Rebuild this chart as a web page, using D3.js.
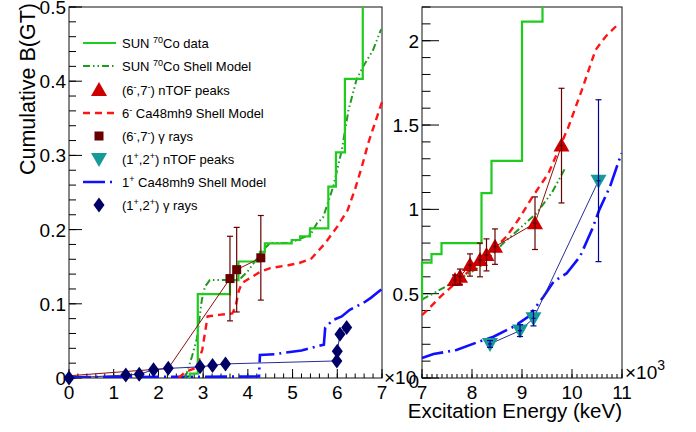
<!DOCTYPE html>
<html>
<head>
<meta charset="utf-8">
<script src="https://cdn.jsdelivr.net/npm/d3@7"></script>
<style>
  html, body { margin: 0; padding: 0; background: #fff; }
  svg { display: block; }
</style>
</head>
<body>
<script>
// ---------- data (excitation energy in keV, cumulative B(GT)) ----------
// SUN 70Co data, step function: energy where each step occurs, cumulative value after it
const sunDataLowE = [2650, 2700, 2880, 3600, 3790, 4270, 4380, 4980, 5170, 5390, 5800, 5970, 6170, 6570, 7000];
const sunDataLowB = [0.0, 0.006, 0.113, 0.132, 0.157, 0.170, 0.1815, 0.186, 0.191, 0.2017, 0.258, 0.304, 0.403, 0.56, 0.56];
const sunDataHighE = [7000, 7001, 7190, 7390, 8190, 8390, 9000, 9410, 11000];
const sunDataHighB = [0.463, 0.684, 0.735, 0.80, 1.096, 1.287, 2.113, 2.5, 2.5];

// SUN 70Co shell model
const sunSmLowE = [2600, 2750, 2860, 2970, 3040, 3150, 3520, 3680, 3850, 4000, 4180, 4330, 4500, 4900, 5100, 5400, 5550, 5680, 5910, 6100, 6250, 6430, 6580, 6800, 6980];
const sunSmLowB = [0.0, 0.029, 0.053, 0.105, 0.123, 0.132, 0.132, 0.131, 0.135, 0.144, 0.159, 0.172, 0.182, 0.182, 0.186, 0.193, 0.209, 0.216, 0.258, 0.307, 0.361, 0.402, 0.420, 0.442, 0.470];
const sunSmHighE = [7000, 7400, 7760, 8160, 8630, 8960, 9290, 9600, 9850];
const sunSmHighB = [0.465, 0.53, 0.59, 0.66, 0.80, 0.888, 0.977, 1.10, 1.237];

// 6- Ca48mh9 shell model
const neg6SmLowE = [2450, 2600, 2850, 2980, 3100, 3350, 3650, 3720, 3800, 3870, 4270, 4500, 4900, 5150, 5420, 5720, 6000, 6230, 6400, 6550, 6700, 6850, 7000];
const neg6SmLowB = [0.0, 0.008, 0.014, 0.038, 0.083, 0.085, 0.087, 0.095, 0.118, 0.128, 0.143, 0.148, 0.152, 0.155, 0.161, 0.181, 0.204, 0.226, 0.255, 0.285, 0.318, 0.345, 0.372];
const neg6SmHighE = [7000, 7190, 7360, 7700, 8000, 8300, 8690, 8930, 9200, 9530, 9930, 10200, 10470, 10670, 10930];
const neg6SmHighB = [0.372, 0.428, 0.48, 0.57, 0.65, 0.73, 0.838, 0.94, 1.07, 1.214, 1.49, 1.71, 1.945, 2.024, 2.10];

// 1+ Ca48mh9 shell model
const pos1SmLowE = [0, 4250, 4270, 4600, 4800, 5200, 5700, 5730, 5900, 6100, 6280, 6580, 6750, 7000];
const pos1SmLowB = [0.001, 0.002, 0.031, 0.032, 0.034, 0.037, 0.045, 0.068, 0.078, 0.083, 0.092, 0.101, 0.108, 0.120];
const pos1SmHighE = [7000, 7230, 7690, 8090, 8430, 8830, 9130, 9430, 9630, 9890, 10160, 10400, 10550, 10760, 10990];
const pos1SmHighB = [0.118, 0.142, 0.166, 0.21, 0.245, 0.304, 0.364, 0.482, 0.571, 0.62, 0.72, 0.88, 1.0, 1.135, 1.333];

// (6-,7-) nTOF peaks
const negNtofE = [7660, 7760, 7960, 8160, 8290, 8460, 9260, 9790];
const negNtofB = [0.581, 0.601, 0.670, 0.700, 0.730, 0.779, 0.918, 1.378];
const negNtofErr = [0.03, 0.045, 0.066, 0.10, 0.095, 0.105, 0.156, 0.34];

// (1+,2+) nTOF peaks
const posNtofE = [8360, 8960, 9230, 10530];
const posNtofB = [0.202, 0.281, 0.354, 1.17];
const posNtofErr = [0.02, 0.035, 0.045, 0.48];

// (6-,7-) gamma rays (first two entries anchor the trend line, no measurement)
const negGammaE = [0, 2220, 3600, 3750, 4290];
const negGammaB = [0.003, 0.013, 0.134, 0.146, 0.162];
const negGammaErr = [0, 0, 0.057, 0.057, 0.057];

// (1+,2+) gamma rays
const posGammaE = [0, 1270, 1570, 1890, 2220, 2930, 3210, 3500, 5990, 6000, 6060, 6210];
const posGammaB = [0.0, 0.004, 0.005, 0.011, 0.013, 0.015, 0.017, 0.019, 0.023, 0.036, 0.059, 0.068];

// axis ticks
const leftXTicks = [0, 1000, 2000, 3000, 4000, 5000, 6000, 7000];
const leftYTicks = [0, 0.1, 0.2, 0.3, 0.4, 0.5];
const rightXTicks = [7000, 8000, 9000, 10000, 11000];
const rightYTicks = [0, 0.5, 1, 1.5, 2];

const legendLabels = [
  [["SUN "], ["70", 1], ["Co data"]],
  [["SUN "], ["70", 1], ["Co Shell Model"]],
  [["(6"], ["-", 1], [",7"], ["-", 1], [") nTOF peaks"]],
  [["6"], ["-", 1], [" Ca48mh9 Shell Model"]],
  [["(6"], ["-", 1], [",7"], ["-", 1], [") \u03b3 rays"]],
  [["(1"], ["+", 1], [",2"], ["+", 1], [") nTOF peaks"]],
  [["1"], ["+", 1], [" Ca48mh9 Shell Model"]],
  [["(1"], ["+", 1], [",2"], ["+", 1], [") \u03b3 rays"]]
];

(function () {
// ---------- styles ----------
const FONT = "'Liberation Sans', Arial, Helvetica, sans-serif";
const C = {
  data: "#1ecb1e",
  sm: "#1f9a1f",
  red: "#ff1414",
  tri: "#cc0000",
  maroon: "#660000",
  teal: "#159a9a",
  blue: "#1010ff",
  navy: "#000066",
  navyLine: "#2a2a9a",
  errBlue: "#000099"
};
const styleSm = { stroke: C.sm, width: 2, dash: "7,3,1.5,3,1.5,3" };
const styleRed = { stroke: C.red, width: 2.4, dash: "7,5" };
const styleBlue = { stroke: C.blue, width: 2.6, dash: "22,5,2,5" };

const W = 696, H = 432;
const svg = d3.select("body").append("svg").attr("width", W).attr("height", H)
  .style("font-family", FONT);
svg.append("rect").attr("width", W).attr("height", H).attr("fill", "#fff");

const plotTop = 7, plotBottom = 378;
const xL = d3.scaleLinear([0, 7000], [69, 382]);
const yL = d3.scaleLinear([0, 0.5], [plotBottom, plotTop]);
const xR = d3.scaleLinear([7000, 11000], [422, 622]);
const yR = d3.scaleLinear([0, 2.2], [plotBottom, plotTop]);

const zip = (xs, ys) => xs.map((x, i) => [x, ys[i]]);

// ---------- marker shapes ----------
function marker(g, kind, cx, cy, color) {
  if (kind === "up") {
    g.append("path").attr("d", `M${cx - 8},${cy + 6}L${cx + 8},${cy + 6}L${cx},${cy - 8}Z`).attr("fill", color);
  } else if (kind === "down") {
    g.append("path").attr("d", `M${cx - 8},${cy - 6}L${cx + 8},${cy - 6}L${cx},${cy + 8}Z`).attr("fill", color);
  } else if (kind === "square") {
    g.append("rect").attr("x", cx - 4.5).attr("y", cy - 4.5).attr("width", 9).attr("height", 9).attr("fill", color);
  } else if (kind === "diamond") {
    g.append("path").attr("d", `M${cx},${cy - 7.5}L${cx + 5.5},${cy}L${cx},${cy + 7.5}L${cx - 5.5},${cy}Z`).attr("fill", color);
  }
}

function drawCurve(g, pts, x, y, st, curve) {
  g.append("path")
    .attr("d", d3.line().x(d => x(d[0])).y(d => y(d[1])).curve(curve || d3.curveLinear)(pts))
    .attr("fill", "none").attr("stroke", st.stroke).attr("stroke-width", st.width)
    .attr("stroke-dasharray", st.dash || null).attr("stroke-linejoin", "miter");
}

function errBars(g, es, bs, errs, x, y, color, xerr) {
  es.forEach((e, i) => {
    if (!errs[i]) return;
    const cx = x(e), y0 = y(bs[i] - errs[i]), y1 = y(bs[i] + errs[i]);
    g.append("line").attr("x1", cx).attr("x2", cx).attr("y1", y0).attr("y2", y1)
      .attr("stroke", color).attr("stroke-width", 1.2);
    [y0, y1].forEach(yy => g.append("line").attr("x1", cx - 3).attr("x2", cx + 3).attr("y1", yy).attr("y2", yy)
      .attr("stroke", color).attr("stroke-width", 1.2));
    if (xerr) {
      const cy = y(bs[i]);
      g.append("line").attr("x1", x(e - xerr)).attr("x2", x(e + xerr)).attr("y1", cy).attr("y2", cy)
        .attr("stroke", color).attr("stroke-width", 1.2);
    }
  });
}

// ---------- axes (frame, inward ticks, labels) ----------
function axes(x, y, xt, yt, xMinorStep, yMinorStep, opts) {
  const g = svg.append("g");
  const [x0, x1] = x.range();
  const [yb, yt0] = y.range();
  const xMinor = d3.range(x.domain()[0], x.domain()[1] + 1e-6, xMinorStep);
  const yMinor = d3.range(y.domain()[0], y.domain()[1] + 1e-9, yMinorStep);
  g.append("rect").attr("x", x0).attr("y", yt0).attr("width", x1 - x0).attr("height", yb - yt0)
    .attr("fill", "none").attr("stroke", "#111").attr("stroke-width", 1);
  xMinor.forEach(v => g.append("line").attr("x1", x(v)).attr("x2", x(v)).attr("y1", yb).attr("y2", yb - opts.xMinorLen).attr("stroke", "#000"));
  xt.forEach(v => g.append("line").attr("x1", x(v)).attr("x2", x(v)).attr("y1", yb).attr("y2", yb - opts.xMajorLen).attr("stroke", "#000"));
  yMinor.forEach(v => g.append("line").attr("x1", x0).attr("x2", x0 + opts.yMinorLen).attr("y1", y(v)).attr("y2", y(v)).attr("stroke", "#000"));
  yt.forEach(v => g.append("line").attr("x1", x0).attr("x2", x0 + opts.yMajorLen).attr("y1", y(v)).attr("y2", y(v)).attr("stroke", "#000"));
  xt.forEach(v => g.append("text").attr("x", x(v)).attr("y", 399).attr("text-anchor", "middle")
    .attr("font-size", 19).text(d3.format("~g")(v / 1000)));
  yt.forEach(v => g.append("text").attr("x", x0 - 3).attr("y", y(v) + 7 + (v === 0 ? opts.zeroShift : 0))
    .attr("text-anchor", "end").attr("font-size", 19).text(d3.format("~g")(v)));
  return g;
}

// ---------- left panel ----------
axes(xL, yL, leftXTicks, leftYTicks, 200, 0.02,
  { xMajorLen: 9, xMinorLen: 4.5, yMajorLen: 13, yMinorLen: 7, zeroShift: 0 });

svg.append("clipPath").attr("id", "clipL").append("rect")
  .attr("x", 68).attr("y", plotTop).attr("width", 315).attr("height", plotBottom - plotTop);
const gl = svg.append("g");
const glc = gl.append("g").attr("clip-path", "url(#clipL)");

drawCurve(glc, zip(pos1SmLowE, pos1SmLowB), xL, yL, styleBlue);
drawCurve(glc, zip(neg6SmLowE, neg6SmLowB), xL, yL, styleRed);
drawCurve(glc, zip(sunSmLowE, sunSmLowB), xL, yL, styleSm);
drawCurve(glc, zip(sunDataLowE, sunDataLowB), xL, yL, { stroke: C.data, width: 2.2 }, d3.curveStepAfter);

drawCurve(gl, zip(negGammaE, negGammaB), xL, yL, { stroke: "#8a1010", width: 1 });
drawCurve(gl, zip(posGammaE, posGammaB), xL, yL, { stroke: C.navyLine, width: 1 });
negGammaE.forEach((e, i) => { if (negGammaErr[i]) marker(gl, "square", xL(e), yL(negGammaB[i]), C.maroon); });
errBars(gl, negGammaE, negGammaB, negGammaErr, xL, yL, C.maroon, 0);
posGammaE.forEach((e, i) => marker(gl, "diamond", xL(e), yL(posGammaB[i]), C.navy));

// left exponent label
svg.append("text").attr("x", 384).attr("y", 384).attr("font-size", 19).text("\u00d710");

// ---------- right panel ----------
svg.append("rect").attr("x", 419).attr("y", 0).attr("width", W - 419).attr("height", H).attr("fill", "#fff");
axes(xR, yR, rightXTicks, rightYTicks, 100, 0.1,
  { xMajorLen: 9, xMinorLen: 4, yMajorLen: 17, yMinorLen: 8.5, zeroShift: 3 });

svg.append("clipPath").attr("id", "clipR").append("rect")
  .attr("x", 421).attr("y", plotTop).attr("width", 202).attr("height", plotBottom - plotTop);
const gr = svg.append("g");
const grc = gr.append("g").attr("clip-path", "url(#clipR)");

drawCurve(grc, zip(pos1SmHighE, pos1SmHighB), xR, yR, styleBlue);
drawCurve(grc, zip(neg6SmHighE, neg6SmHighB), xR, yR, styleRed);
drawCurve(grc, zip(sunSmHighE, sunSmHighB), xR, yR, styleSm);
drawCurve(grc, zip(sunDataHighE, sunDataHighB), xR, yR, { stroke: C.data, width: 2.2 }, d3.curveStepAfter);

drawCurve(gr, zip(negNtofE, negNtofB), xR, yR, { stroke: "#8a1010", width: 1 });
drawCurve(gr, zip(posNtofE, posNtofB), xR, yR, { stroke: C.navyLine, width: 1 });
negNtofE.forEach((e, i) => marker(gr, "up", xR(e), yR(negNtofB[i]), C.tri));
posNtofE.forEach((e, i) => marker(gr, "down", xR(e), yR(posNtofB[i]), C.teal));
errBars(gr, negNtofE, negNtofB, negNtofErr, xR, yR, C.maroon, 40);
errBars(gr, posNtofE, posNtofB, posNtofErr, xR, yR, C.errBlue, 40);

const ex = svg.append("text").attr("x", 625).attr("y", 379).attr("font-size", 19);
ex.append("tspan").text("\u00d710");
ex.append("tspan").attr("dy", -9).attr("font-size", 14).text("3");

// ---------- titles ----------
svg.append("text").attr("transform", "translate(35,3) rotate(-90)")
  .attr("text-anchor", "end").attr("font-size", 21.5).text("Cumulative B(GT)");
svg.append("text").attr("x", 622).attr("y", 418).attr("text-anchor", "end")
  .attr("font-size", 20.5).text("Excitation Energy (keV)");

// ---------- legend ----------
const legY = [43, 66, 90, 113, 136, 159, 182, 205];
const lg = svg.append("g");
const legendSpecs = [
  { line: { stroke: C.data, width: 2.2 } },
  { line: styleSm },
  { mark: ["up", C.tri] },
  { line: styleRed },
  { mark: ["square", C.maroon] },
  { mark: ["down", C.teal] },
  { line: styleBlue },
  { mark: ["diamond", C.navy] }
];
legendSpecs.forEach((s, i) => {
  const y = legY[i];
  if (s.line) {
    lg.append("line").attr("x1", 83).attr("x2", 116).attr("y1", y).attr("y2", y)
      .attr("stroke", s.line.stroke).attr("stroke-width", s.line.width)
      .attr("stroke-dasharray", s.line.dash || null);
  } else {
    marker(lg, s.mark[0], 99, y, s.mark[1]);
  }
  const t = lg.append("text").attr("x", 122).attr("y", y + 5).attr("font-size", 13);
  let up = false;
  legendLabels[i].forEach(([str, sup]) => {
    const ts = t.append("tspan").text(str);
    if (sup && !up) { ts.attr("dy", -5).attr("font-size", 9); up = true; }
    else if (!sup && up) { ts.attr("dy", 5); up = false; }
    else if (sup) ts.attr("font-size", 9);
  });
});
})();
</script>
</body>
</html>
